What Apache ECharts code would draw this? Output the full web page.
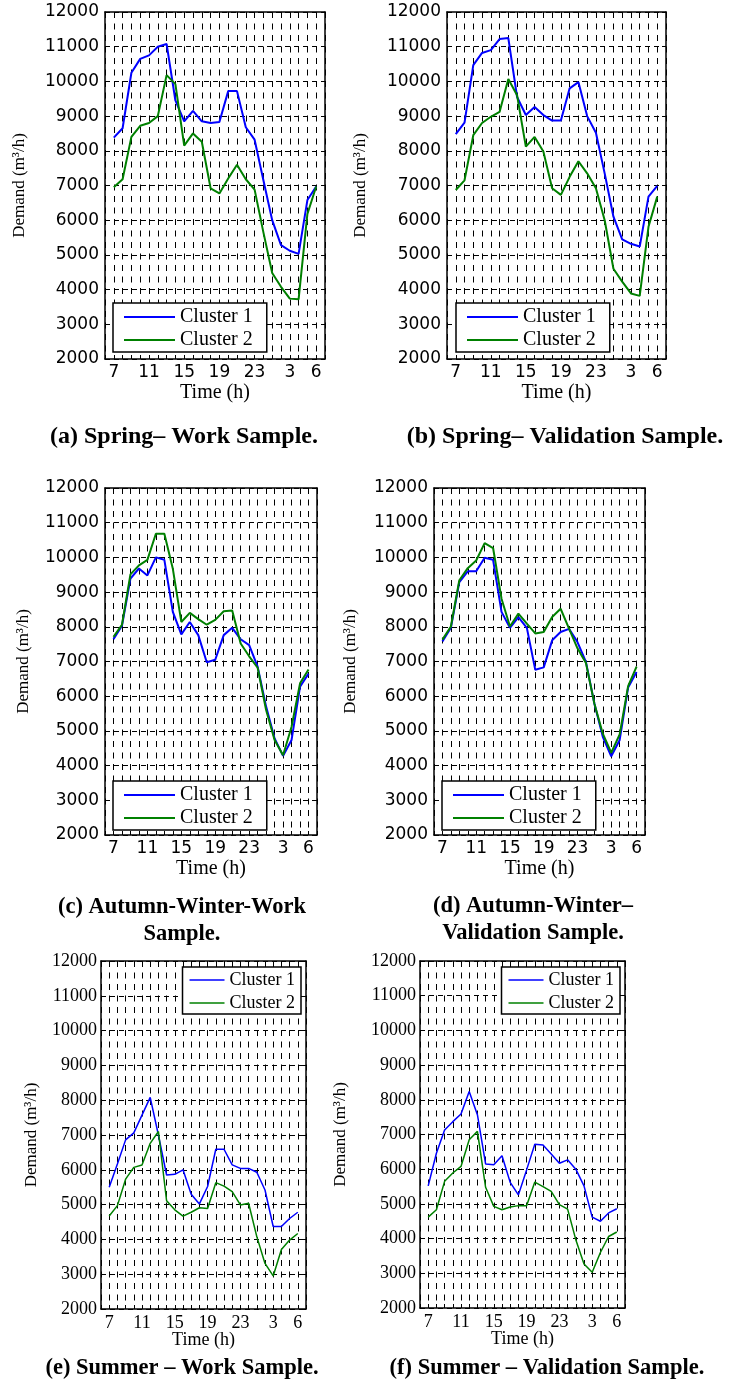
<!DOCTYPE html>
<html>
<head>
<meta charset="utf-8">
<script src="https://cdn.jsdelivr.net/npm/echarts@6/dist/echarts.min.js"></script>
<style>
  html, body { margin: 0; padding: 0; background: #fff; }
  #chart { width: 736px; height: 1384px; }
</style>
</head>
<body>
<div id="chart"></div>
<script>
// Hour of day for each of the 24 samples (day runs 7h .. 6h next morning)
const hours = [7, 8, 9, 10, 11, 12, 13, 14, 15, 16, 17, 18, 19, 20, 21, 22, 23, 0, 1, 2, 3, 4, 5, 6];
// Hours that carry a tick label on the time axis
const tickHours = [7, 11, 15, 19, 23, 3, 6];
// Demand axis range (m3/h)
const demandMin = 2000;
const demandMax = 12000;
const demandStep = 1000;

const seriesNames = ['Cluster 1', 'Cluster 2'];

// (a) Spring - work sample
const springWorkC1 = [8380, 8650, 10250, 10650, 10750, 11000, 11080, 9450, 8850, 9150, 8850, 8800, 8830, 9720, 9720, 8680, 8320, 7150, 6000, 5280, 5120, 5030, 6580, 6970];
const springWorkC2 = [6950, 7180, 8400, 8720, 8800, 9000, 10180, 9920, 8150, 8500, 8260, 6920, 6770, 7200, 7600, 7180, 6880, 5650, 4480, 4080, 3740, 3720, 6180, 6970];
// (b) Spring - validation sample
const springValC1 = [8480, 8810, 10470, 10820, 10900, 11220, 11250, 9550, 9030, 9260, 9030, 8870, 8870, 9800, 9980, 9000, 8520, 7350, 6100, 5450, 5320, 5240, 6680, 6990];
const springValC2 = [6870, 7150, 8450, 8800, 8980, 9120, 10070, 9600, 8120, 8400, 7980, 6920, 6730, 7250, 7700, 7350, 6920, 6000, 4600, 4230, 3890, 3820, 5810, 6680];
// (c) Autumn-winter - work sample
const autumnWorkC1 = [7640, 8030, 9390, 9680, 9480, 10000, 9930, 8430, 7780, 8140, 7760, 6980, 7050, 7760, 7970, 7640, 7470, 6850, 5700, 4780, 4280, 4740, 6270, 6650];
const autumnWorkC2 = [7710, 8060, 9510, 9770, 9930, 10680, 10680, 9670, 8140, 8400, 8220, 8060, 8200, 8450, 8470, 7520, 7150, 6820, 5600, 4740, 4300, 5120, 6370, 6770];
// (d) Autumn-winter - validation sample
const autumnValC1 = [7580, 7970, 9290, 9600, 9600, 9990, 9930, 8430, 7970, 8280, 7970, 6760, 6830, 7610, 7850, 7940, 7560, 6990, 5790, 4830, 4270, 4740, 6250, 6700];
const autumnValC2 = [7630, 8010, 9340, 9690, 9910, 10410, 10270, 8810, 8010, 8380, 8090, 7810, 7850, 8280, 8520, 7950, 7380, 6960, 5790, 4920, 4370, 4900, 6290, 6850];
// (e) Summer - work sample
const summerWorkC1 = [5500, 6170, 6860, 7060, 7570, 8080, 7000, 5850, 5870, 6000, 5300, 5020, 5520, 6590, 6590, 6140, 6040, 6040, 5930, 5420, 4370, 4370, 4600, 4780];
const summerWorkC2 = [4670, 4970, 5730, 6070, 6140, 6760, 7100, 5110, 4850, 4670, 4780, 4910, 4890, 5630, 5530, 5370, 4990, 5040, 4080, 3310, 2950, 3710, 3980, 4170];
// (f) Summer - validation sample
const summerValC1 = [5520, 6460, 7130, 7370, 7590, 8240, 7570, 6150, 6130, 6390, 5620, 5260, 5980, 6720, 6700, 6440, 6170, 6270, 6000, 5520, 4620, 4500, 4740, 4860];
const summerValC2 = [4620, 4830, 5650, 5890, 6080, 6850, 7090, 5480, 4930, 4830, 4910, 4950, 4950, 5630, 5500, 5360, 4980, 4850, 3970, 3270, 3030, 3600, 4060, 4190];

const captions = [
  '(a) Spring\u2013 Work Sample.',
  '(b) Spring\u2013 Validation Sample.',
  '(c) Autumn-Winter-Work\nSample.',
  '(d) Autumn-Winter\u2013\nValidation Sample.',
  '(e) Summer \u2013 Work Sample.',
  '(f) Summer \u2013 Validation Sample.'
];

const panels = [
  { c1: springWorkC1, c2: springWorkC2 },
  { c1: springValC1, c2: springValC2 },
  { c1: autumnWorkC1, c2: autumnWorkC2 },
  { c1: autumnValC1, c2: autumnValC2 },
  { c1: summerWorkC1, c2: summerWorkC2 },
  { c1: summerValC1, c2: summerValC2 }
];

// Panel geometry and styling
const layout = [
  { left: 105, top: 12,  width: 220, height: 347, sans: true,  yNameGap: 77, labMargin: 6, legendPos: { left: 113, top: 303 }, capX: 184, capY: 437, capSize: 24 },
  { left: 447, top: 12,  width: 219, height: 347, sans: true,  yNameGap: 78, labMargin: 6, legendPos: { left: 456, top: 303 }, capX: 565, capY: 437, capSize: 24 },
  { left: 105, top: 488, width: 212, height: 347, sans: true,  yNameGap: 73, labMargin: 6, legendPos: { left: 113, top: 781 }, capX: 182, capY: 921, capSize: 22.5 },
  { left: 434, top: 488, width: 211, height: 347, sans: true,  yNameGap: 75, labMargin: 6, legendPos: { left: 442, top: 781 }, capX: 533, capY: 920, capSize: 22.5 },
  { left: 101, top: 961, width: 205, height: 348, sans: false, yNameGap: 61, labMargin: 4, legendPos: { right: 435, top: 967 }, capX: 182, capY: 1368, capSize: 22.5 },
  { left: 420, top: 961, width: 205, height: 347, sans: false, yNameGap: 71, labMargin: 4, legendPos: { right: 116, top: 967 }, capX: 547, capY: 1368, capSize: 22.5 }
];

const BLUE = '#0000ff';
const GREEN = '#008000';
const serif = 'Liberation Serif';

const grid = [], xAxis = [], yAxis = [], series = [], legend = [], graphic = [];

panels.forEach((p, k) => {
  const L = layout[k];
  const tickFont = L.sans
    ? { fontFamily: 'DejaVu Sans', fontSize: 17, color: '#000' }
    : { fontFamily: serif, fontSize: 18, color: '#000' };
  const boxLine = { show: true, onZero: false, lineStyle: { color: '#000', width: 1.5 } };
  const tick = { show: true, inside: true, length: 4, lineStyle: { color: '#000', width: 1 } };

  grid.push({ left: L.left, top: L.top, width: L.width, height: L.height, containLabel: false, outerBoundsMode: 'none' });

  const xBase = { type: 'value', gridIndex: k, min: 0, max: hours.length + 1, interval: 1 };
  xAxis.push(Object.assign({}, xBase, {
    position: 'bottom',
    axisLine: boxLine,
    axisTick: tick,
    axisLabel: {
      margin: 5,
      ...tickFont,
      formatter: v => {
        const h = hours[v - 1];
        return (h !== undefined && tickHours.includes(h)) ? String(h) : '';
      }
    },
    splitLine: { show: true, lineStyle: { color: '#000', width: 1, type: [6, 5.5] } },
    name: 'Time (h)',
    nameLocation: 'middle',
    nameGap: L.sans ? 24 : 22,
    nameMoveOverlap: false,
    nameTextStyle: { fontFamily: serif, fontSize: L.sans ? 20 : 18, color: '#000' }
  }));
  xAxis.push(Object.assign({}, xBase, {
    position: 'top',
    axisLine: boxLine,
    axisTick: tick,
    axisLabel: { show: false },
    splitLine: { show: false }
  }));

  const yBase = { type: 'value', gridIndex: k, min: demandMin, max: demandMax, interval: demandStep };
  yAxis.push(Object.assign({}, yBase, {
    position: 'left',
    axisLine: boxLine,
    axisTick: tick,
    axisLabel: { margin: L.labMargin, ...tickFont, formatter: v => String(v) },
    splitLine: { show: true, lineStyle: { color: '#000', width: 1, type: [5, 4] } },
    name: 'Demand (m\u00b3/h)',
    nameLocation: 'middle',
    nameRotate: 90,
    nameGap: L.yNameGap,
    nameMoveOverlap: false,
    nameTextStyle: { fontFamily: serif, fontSize: 17, color: '#000' }
  }));
  yAxis.push(Object.assign({}, yBase, {
    position: 'right',
    axisLine: boxLine,
    axisTick: tick,
    axisLabel: { show: false },
    splitLine: { show: false }
  }));

  [p.c1, p.c2].forEach((vals, j) => {
    series.push({
      type: 'line',
      name: seriesNames[j],
      xAxisIndex: 2 * k,
      yAxisIndex: 2 * k,
      data: vals.map((v, i) => [i + 1, v]),
      symbol: 'none',
      lineStyle: { color: j === 0 ? BLUE : GREEN, width: L.sans ? 2 : 1.5 },
      itemStyle: { color: j === 0 ? BLUE : GREEN },
      emphasis: { disabled: true },
      silent: true
    });
  });

  legend.push(Object.assign({
    orient: 'vertical',
    data: seriesNames,
    icon: 'rect',
    itemWidth: L.sans ? 51 : 35,
    itemHeight: L.sans ? 2 : 1.5,
    itemGap: L.sans ? 3 : 5,
    padding: L.sans ? [4, 14, 2, 11] : [4, 6, 2, 7],
    backgroundColor: '#fff',
    borderColor: '#000',
    borderWidth: 1.5,
    borderRadius: 0,
    selectedMode: false,
    textStyle: { fontFamily: serif, fontSize: L.sans ? 20 : 18, color: '#000' }
  }, L.legendPos));

  graphic.push({
    type: 'text',
    x: L.capX,
    y: L.capY,
    style: {
      text: captions[k],
      fill: '#000',
      font: 'bold ' + L.capSize + 'px "Liberation Serif"',
      align: 'center',
      verticalAlign: 'middle',
      lineHeight: 27
    }
  });
});

const chart = echarts.init(document.getElementById('chart'));
chart.setOption({
  animation: false,
  backgroundColor: '#fff',
  grid, xAxis, yAxis, series, legend, graphic
});
</script>
</body>
</html>
